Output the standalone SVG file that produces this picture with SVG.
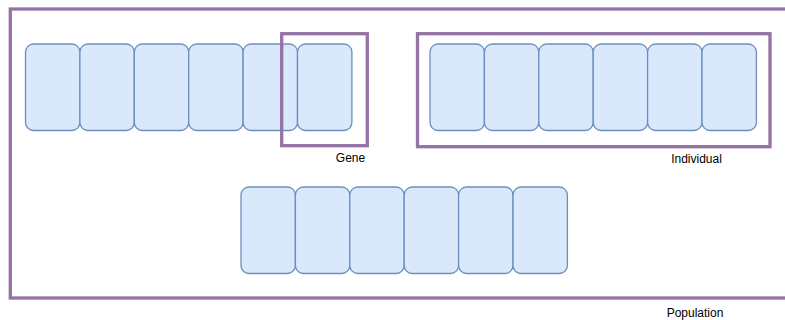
<svg xmlns="http://www.w3.org/2000/svg" width="785" height="320" viewBox="0 0 785 320">
<style>
.cell{fill:#dae8fc;stroke:#6c8ebf;stroke-width:1.3}
.box{fill:none;stroke:#9673a6;stroke-width:3.3}
.lbl{font-family:"Liberation Sans",Arial,sans-serif;font-size:12px;fill:#000;text-anchor:middle}
</style>
<rect width="785" height="320" fill="#ffffff"/>
<g id="population">
<rect class="box" x="10.3" y="9" width="790" height="289"/>
<text class="lbl" x="695" y="317">Population</text>
</g>
<g id="chromosome1">
<rect class="cell" x="25.5" y="44" width="54.4" height="86.5" rx="8"/>
<rect class="cell" x="79.9" y="44" width="54.4" height="86.5" rx="8"/>
<rect class="cell" x="134.3" y="44" width="54.4" height="86.5" rx="8"/>
<rect class="cell" x="188.7" y="44" width="54.4" height="86.5" rx="8"/>
<rect class="cell" x="243.1" y="44" width="54.4" height="86.5" rx="8"/>
<rect class="cell" x="297.5" y="44" width="54.4" height="86.5" rx="8"/>
</g>
<g id="chromosome2">
<rect class="cell" x="430" y="44" width="54.4" height="86.5" rx="8"/>
<rect class="cell" x="484.4" y="44" width="54.4" height="86.5" rx="8"/>
<rect class="cell" x="538.8" y="44" width="54.4" height="86.5" rx="8"/>
<rect class="cell" x="593.2" y="44" width="54.4" height="86.5" rx="8"/>
<rect class="cell" x="647.6" y="44" width="54.4" height="86.5" rx="8"/>
<rect class="cell" x="702" y="44" width="54.4" height="86.5" rx="8"/>
</g>
<g id="chromosome3">
<rect class="cell" x="241" y="187" width="54.4" height="86.5" rx="8"/>
<rect class="cell" x="295.4" y="187" width="54.4" height="86.5" rx="8"/>
<rect class="cell" x="349.8" y="187" width="54.4" height="86.5" rx="8"/>
<rect class="cell" x="404.2" y="187" width="54.4" height="86.5" rx="8"/>
<rect class="cell" x="458.6" y="187" width="54.4" height="86.5" rx="8"/>
<rect class="cell" x="513" y="187" width="54.4" height="86.5" rx="8"/>
</g>
<g id="gene">
<rect class="box" x="281.7" y="33.7" width="85.6" height="112"/>
<text class="lbl" x="350.5" y="162">Gene</text>
</g>
<g id="individual">
<rect class="box" x="417.5" y="33.7" width="352.5" height="113"/>
<text class="lbl" x="696.5" y="163">Individual</text>
</g>
<g id="connectors"/>
</svg>
